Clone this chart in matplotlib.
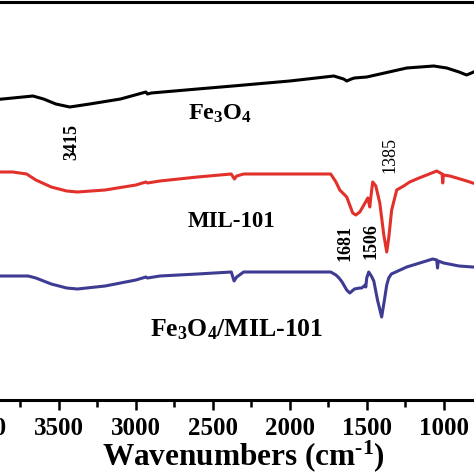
"""FTIR spectra of Fe3O4, MIL-101 and the Fe3O4/MIL-101 composite."""

import matplotlib

matplotlib.use("Agg")
import matplotlib.pyplot as plt

# wavenumber (cm-1) and offset transmittance (a.u.)
fe3o4_wn = [3900, 3800, 3669, 3600, 3520, 3430, 3300, 3100, 2935, 2925, 2900,
            2600, 2370, 2000, 1714, 1650, 1630, 1600, 1580, 1500, 1240, 1065,
            980, 900, 851, 805]
fe3o4_t = [300.5, 302, 304, 301, 296, 293, 296, 301, 308, 306, 307,
           311, 314, 319, 324, 321, 319, 321, 322, 323, 332, 334,
           332, 328, 325, 328]

mil_wn = [3900, 3800, 3710, 3700, 3650, 3550, 3450, 3380, 3200, 3000, 2935,
          2925, 2844, 2600, 2380, 2360, 2345, 2300, 2000, 1734, 1700, 1675,
          1630, 1591, 1571, 1545, 1526, 1493, 1480, 1474, 1461, 1441, 1415,
          1389, 1370, 1357, 1338, 1305, 1260, 1221, 1160, 1110, 1045, 1010,
          1006, 1002, 960, 915, 850, 811]
mil_t = [228, 228, 226, 225, 220, 213, 209, 208, 210, 215, 218,
         217, 219, 223, 226, 221, 224, 226, 226, 226, 218, 210,
         203, 187, 185, 188, 193, 202, 193, 202, 218, 214, 197,
         165, 148, 162, 190, 210, 214, 218, 222, 225, 229, 226,
         217, 225, 224, 222, 219, 217]

comp_wn = [3900, 3700, 3650, 3550, 3450, 3380, 3200, 3000, 2935, 2925, 2844,
           2600, 2380, 2362, 2345, 2300, 2000, 1734, 1700, 1680, 1660, 1630,
           1610, 1580, 1545, 1532, 1510, 1506, 1500, 1487, 1470, 1454, 1430,
           1403, 1385, 1370, 1357, 1340, 1240, 1071, 1045, 1040, 1035, 1000,
           900, 811]
comp_t = [124, 124, 122, 116, 112, 111, 114, 120, 123, 122, 124,
          126, 128, 119, 123, 128, 128, 128, 125, 122, 118, 110,
          107, 111, 112, 112, 115, 113, 122, 128, 124, 119, 100,
          83, 100, 115, 122, 126, 133, 141, 140, 132, 139, 137,
          134, 133]

peak_labels = ["3415", "1385", "1681", "1506"]
peak_wn = [3416, 1350, 1643, 1474]
peak_t = [258, 245, 157, 159]

SERIF = "Liberation Serif"
plt.rcParams["font.family"] = SERIF
plt.rcParams["font.weight"] = "bold"
plt.rcParams["mathtext.fontset"] = "custom"
plt.rcParams["mathtext.rm"] = f"{SERIF}:bold"
plt.rcParams["mathtext.it"] = f"{SERIF}:bold"
plt.rcParams["mathtext.bf"] = f"{SERIF}:bold"

fig = plt.figure(figsize=(4.74, 4.74), dpi=100)
# the published panel is cropped, so the axes run past the figure edges
ax = fig.add_axes([-18 / 474, 74 / 474, 554 / 474, 398.5 / 474])

ax.plot(fe3o4_wn, fe3o4_t, color="black", linewidth=2.2)
ax.plot(mil_wn, mil_t, color="#e2302a", linewidth=2.2)
ax.plot(comp_wn, comp_t, color="#3e3c92", linewidth=2.2)

for label, wn, t in zip(peak_labels, peak_wn, peak_t):
    weight = "normal" if label == "1385" else "bold"
    ax.text(wn, t, label, rotation=90, ha="center", va="center",
            fontsize=13, fontweight=weight)

ax.text(2662, 280, "Fe$_{3}$O$_{4}$", fontsize=17.5, fontweight="bold",
        va="baseline")
ax.text(2662, 173, "MIL-101", fontsize=16.5, fontweight="bold", va="baseline")
ax.text(2909, 64, "Fe$_{3}$O$_{4}$/MIL-101", fontsize=18.5, fontweight="bold",
        va="baseline")

ax.set_xlim(4000, 400)
ax.set_ylim(0, 398.5)
ax.set_xticks([4000, 3500, 3000, 2500, 2000, 1500, 1000])
ax.set_xticks([3750, 3250, 2750, 2250, 1750, 1250, 750], minor=True)
ax.set_yticks([])
ax.tick_params(axis="x", which="major", direction="out", length=7, width=1.8,
               labelsize=18, pad=5)
ax.tick_params(axis="x", which="minor", direction="out", length=5, width=1.8)
for spine in ax.spines.values():
    spine.set_linewidth(2.2)

fig.text(243 / 474, 9 / 474, r"Wavenumbers (cm$^{\text{-1}}$)", ha="center",
         va="baseline", fontsize=22.5, fontweight="bold")

fig.savefig("out.png", dpi=100)
